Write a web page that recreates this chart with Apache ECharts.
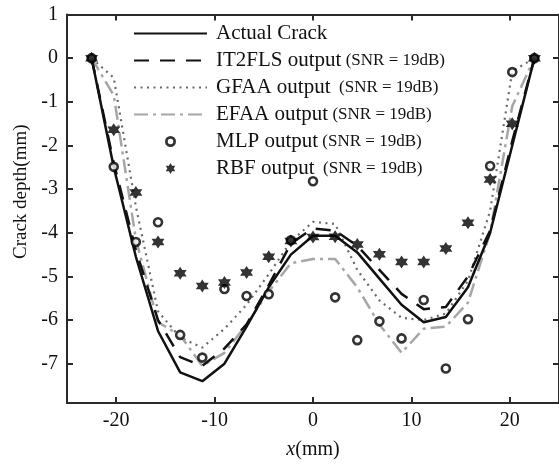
<!DOCTYPE html>
<html>
<head>
<meta charset="utf-8">
<script src="https://cdn.jsdelivr.net/npm/echarts@6/dist/echarts.min.js"></script>
<style>html,body{margin:0;padding:0;background:#fff}#c{width:559px;height:465px}</style>
</head>
<body>
<div id="c"></div>
<script>
const xs = [-22.5,-20.25,-18,-15.75,-13.5,-11.25,-9,-6.75,-4.5,-2.25,0,2.25,4.5,6.75,9,11.25,13.5,15.75,18,20.25,22.5];
const actual = [0,-2.5,-4.55,-6.25,-7.2,-7.4,-7.0,-6.15,-5.25,-4.5,-4.07,-4.07,-4.45,-5.05,-5.65,-6.05,-5.93,-5.25,-4.0,-2.0,0];
const it2fls = [0,-2.4,-4.4,-6.0,-6.85,-7.05,-6.65,-6.1,-5.2,-4.25,-3.9,-3.95,-4.3,-4.85,-5.4,-5.75,-5.7,-5.0,-3.95,-1.9,0];
const gfaa = [0,-0.45,-3.4,-5.8,-6.4,-6.63,-6.2,-5.65,-4.95,-4.2,-3.75,-3.8,-4.85,-5.55,-5.95,-6.0,-5.85,-5.1,-3.5,-0.3,0];
const efaa = [0,-0.85,-4.15,-6.05,-6.35,-7.05,-6.75,-6.1,-5.35,-4.7,-4.6,-4.6,-5.25,-6.1,-6.75,-6.2,-6.15,-5.6,-4.0,-1.1,0];
const mlp = [0,-2.49,-4.21,-3.76,-6.34,-6.86,-5.29,-5.45,-5.41,-4.17,-2.82,-5.48,-6.46,-6.03,-6.42,-5.54,-7.11,-5.98,-2.47,-0.32,0];
const rbf = [0,-1.64,-3.08,-4.21,-4.93,-5.22,-5.14,-4.91,-4.55,-4.19,-4.1,-4.09,-4.27,-4.49,-4.67,-4.67,-4.36,-3.77,-2.78,-1.5,0];
const xTicks = [-20,-10,0,10,20];
const yTicks = [-7,-6,-5,-4,-3,-2,-1,0,1];
const names = ['Actual Crack','IT2FLS output','GFAA output','EFAA output','MLP output','RBF output'];
const snrGap = {'IT2FLS output':' ','GFAA output':'  ','EFAA output':' ','MLP output':' ','RBF output':'  '};
const snr = '(SNR = 19dB)';

const pair = a => xs.map((x,i)=>[x,a[i]]);
const FONT = 'Liberation Serif';
const hexagram = 'path://M0,-10L8.66,5L-8.66,5Z M0,10L-8.66,-5L8.66,-5Z';
const ring = 'path://M10,0A10,10,0,1,1,-10,0A10,10,0,1,1,10,0Z M5,0A5,5,0,1,0,-5,0A5,5,0,1,0,5,0Z';

const axisLineStyle = {color:'#2a2a2a', width:2};
function xAxisDef(pos, labels){
  return {type:'value', position:pos, min:-25, max:25,
    axisLine:{show:true, onZero:false, lineStyle:axisLineStyle},
    axisTick:{show:true, inside:true, length:6, customValues:xTicks, lineStyle:{color:'#2a2a2a', width:2}},
    axisLabel:{show:labels, customValues:xTicks, fontFamily:FONT, fontSize:20, color:'#111', margin:8},
    splitLine:{show:false},
    name: labels ? '{i|x}(mm)' : '', nameLocation:'middle', nameGap:37,
    nameTextStyle:{fontFamily:FONT, fontSize:20, color:'#111', rich:{i:{fontFamily:FONT, fontSize:20, fontStyle:'italic', color:'#111'}}}
  };
}
function yAxisDef(pos, labels){
  return {type:'value', position:pos, min:-7.9, max:1,
    axisLine:{show:true, onZero:false, lineStyle:axisLineStyle},
    axisTick:{show:true, inside:true, length:6, customValues:yTicks, lineStyle:{color:'#2a2a2a', width:2}},
    axisLabel:{show:labels, customValues:yTicks, fontFamily:FONT, fontSize:20, color:'#111', margin:9},
    splitLine:{show:false},
    name: labels ? 'Crack depth(mm)' : '', nameLocation:'middle', nameGap:32,
    nameTextStyle:{fontFamily:FONT, fontSize:19, color:'#111', padding:[0,0,0,34]}
  };
}

const legendData = names.map((n,i)=> i<4 ? {name:n, itemStyle:{opacity:0}}
  : (i===4 ? {name:n, icon:ring, itemStyle:{color:'#000', borderWidth:0}} : {name:n, itemStyle:{color:'#000'}}));

const chart = echarts.init(document.getElementById('c'), null, {renderer:'canvas'});
chart.setOption({
  animation:false,
  backgroundColor:'#fff',
  grid:{left:67, right:0, top:14.5, bottom:61.7},
  xAxis:[xAxisDef('bottom', true), xAxisDef('top', false)],
  yAxis:[yAxisDef('left', true), yAxisDef('right', false)],
  legend:{
    orient:'vertical', left:133, top:23, padding:0, itemWidth:73, itemHeight:11, itemGap:6,
    data:legendData,
    formatter: n => n==='Actual Crack' ? '{a|'+n+'}' : '{a|'+n+'}{b|'+snrGap[n]+snr+'}',
    textStyle:{fontFamily:FONT, fontSize:21, color:'#111',
      rich:{a:{fontFamily:FONT, fontSize:21, color:'#111', height:20, padding:[0,0,0,4]}, b:{fontFamily:FONT, fontSize:17, color:'#111'}}}
  },
  series:[
    {name:names[0], type:'line', data:pair(actual), symbol:'none', lineStyle:{color:'#111', width:2.5}, itemStyle:{color:'#111'}, z:3},
    {name:names[1], type:'line', data:pair(it2fls), symbol:'none', lineStyle:{color:'#111', width:2.5, type:[15,11]}, itemStyle:{color:'#111'}, z:3},
    {name:names[2], type:'line', data:pair(gfaa), symbol:'none', lineStyle:{color:'#6a6a6a', width:2.2, type:[2,4.5]}, itemStyle:{color:'#6a6a6a'}, z:2},
    {name:names[3], type:'line', data:pair(efaa), symbol:'none', lineStyle:{color:'#a6a6a6', width:2.5, type:[14,5,3,5]}, itemStyle:{color:'#a6a6a6'}, z:2},
    {name:names[4], type:'scatter', data:pair(mlp), symbol:'circle', symbolSize:8, itemStyle:{color:'#fff', borderColor:'#000', borderWidth:2.6}, z:4},
    {name:names[5], type:'scatter', data:pair(rbf), symbol:hexagram, symbolSize:13, itemStyle:{color:'#000'}, z:5}
  ]
});
</script>
</body>
</html>
